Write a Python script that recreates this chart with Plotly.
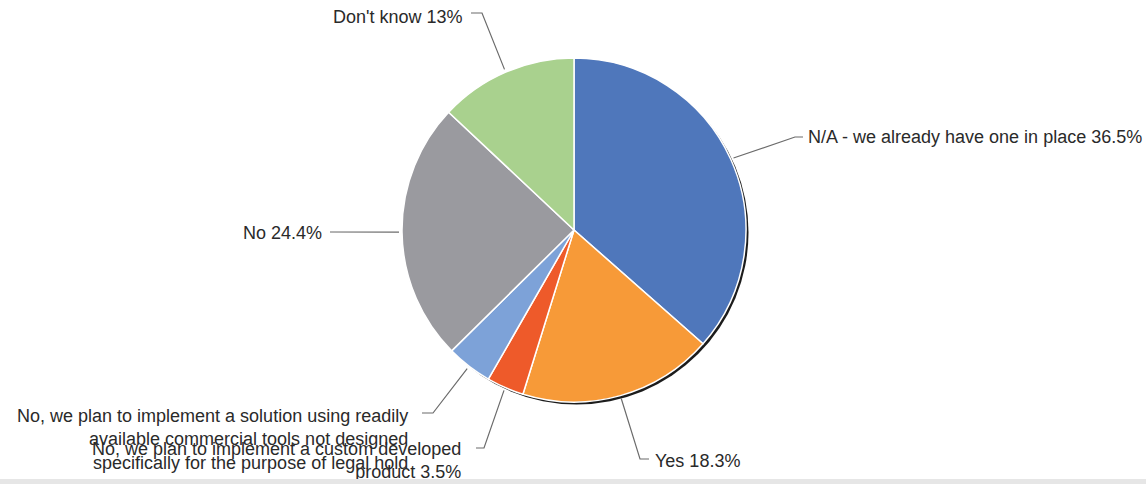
import math
import plotly.graph_objects as go

# ---- data ----
categories = [
    "N/A - we already have one in place",
    "Yes",
    "No, we plan to implement a custom developed product",
    "No, we plan to implement a solution using readily available commercial tools not designed specifically for the purpose of legal hold notification",
    "No",
    "Don't know",
]
values = [36.5, 18.3, 3.5, 4.3, 24.4, 13.0]
label_text = [
    "N/A - we already have one in place 36.5%",
    "Yes 18.3%",
    "No, we plan to implement a custom developed<br>product 3.5%",
    "No, we plan to implement a solution using readily<br>available commercial tools not designed<br>specifically for the purpose of legal hold<br>notification (such as email, word processing and",
    "No 24.4%",
    "Don't know 13%",
]
colors = ["#4f77bb", "#f79a38", "#ee5a2a", "#7da2d8", "#9a9a9f", "#a9d18e"]

# ---- layout constants (pixels) ----
W, H = 1146, 484
CX, CY, R = 574, 230, 172

def px(x):
    return x / W

def py(y):
    return 1 - y / H

dom_x = [px(CX - R), px(CX + R)]
dom_y = [py(CY + R), py(CY - R)]
sh = 2.5
shadow_x = [px(CX - R + sh), px(CX + R + sh)]
shadow_y = [py(CY + R + sh), py(CY - R + sh)]

fig = go.Figure()
fig.add_trace(go.Pie(
    values=[1], labels=["shadow"], marker=dict(colors=["#1c1c1c"]),
    domain=dict(x=shadow_x, y=shadow_y), textinfo="none", hoverinfo="skip",
    showlegend=False, sort=False,
))
fig.add_trace(go.Pie(
    labels=categories, values=values, sort=False, direction="clockwise",
    rotation=0, marker=dict(colors=colors, line=dict(color="white", width=1.5)),
    domain=dict(x=dom_x, y=dom_y), textinfo="none", showlegend=False,
))

# label layout: (elbow, end, text x, text y, anchor)
label_layout = [
    ((795, 137), (803, 137), 806, 137, "left", "middle"),
    ((640, 459), (649, 459), 653, 461, "left", "middle"),
    ((484, 448), (476, 448), 463, 460, "right", "middle"),
    ((433, 413), (422, 413), 410, 451, "right", "middle"),
    ((330, 232), (330, 232), 324, 233, "right", "middle"),
    ((482, 13), (471, 13), 465, 17, "right", "middle"),
]

total = sum(values)
cum = 0.0
shapes = []
annotations = []
for v, txt, lay in zip(values, label_text, label_layout):
    mid = (cum + v / 2) / total * 2 * math.pi
    cum += v
    sx = CX + (R + 3) * math.sin(mid)
    sy = CY - (R + 3) * math.cos(mid)
    (ex, ey), (tx2, ty2), tx, ty, xa, ya = lay
    path = f"M {px(sx)},{py(sy)} L {px(ex)},{py(ey)} L {px(tx2)},{py(ty2)}"
    shapes.append(dict(type="path", xref="paper", yref="paper", path=path,
                       line=dict(color="#6b6b6b", width=1.2)))
    annotations.append(dict(
        x=px(tx), y=py(ty), xref="paper", yref="paper", text=txt,
        showarrow=False, xanchor=xa, yanchor=ya, align=xa,
        font=dict(family="Liberation Sans, Arial, sans-serif", size=18, color="#2a2a2a"),
    ))

# bottom grey strip
annotations.append(dict(
    x=0, y=0, xref="paper", yref="paper", text=" ", showarrow=False,
    xanchor="left", yanchor="bottom", width=W, height=5, borderpad=0,
    bgcolor="#e6e6e6", borderwidth=0,
    font=dict(size=4),
))

fig.update_layout(
    width=W, height=H, margin=dict(l=0, r=0, t=0, b=0),
    paper_bgcolor="white", plot_bgcolor="white",
    shapes=shapes, annotations=annotations,
)
fig.write_html("out.html")
